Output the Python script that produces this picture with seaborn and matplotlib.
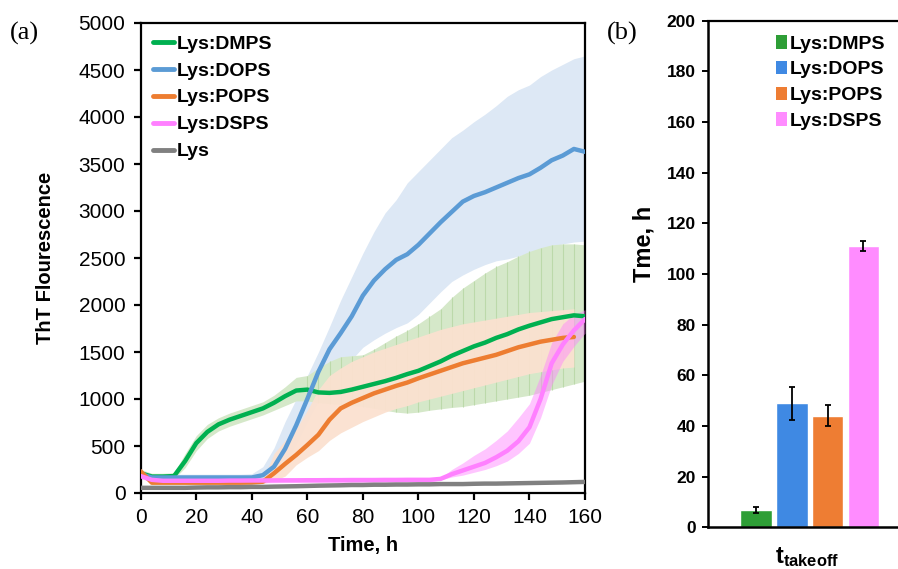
import numpy as np
import pandas as pd
import matplotlib
matplotlib.use("Agg")
import matplotlib.pyplot as plt
from matplotlib.patches import Patch
import seaborn as sns

# ---------------- data: ThT kinetics (panel a) ----------------
time_h = [0, 4, 8, 12, 16, 20, 24, 28, 32, 36, 40, 44, 48, 52, 56, 60, 64, 68, 72, 76,
          80, 84, 88, 92, 96, 100, 104, 108, 112, 116, 120, 124, 128, 132, 136, 140,
          144, 148, 152, 156, 160]

dmps_mean = [210, 175, 175, 180, 340, 530, 650, 730, 780, 820, 860, 900, 960, 1030, 1090,
             1100, 1070, 1065, 1075, 1100, 1130, 1160, 1190, 1225, 1265, 1300, 1350, 1400,
             1460, 1510, 1560, 1600, 1650, 1690, 1740, 1780, 1815, 1850, 1870, 1890, 1880]
dmps_hi = [250, 210, 210, 215, 420, 610, 730, 800, 850, 890, 930, 970, 1040, 1130, 1230,
           1250, 1330, 1400, 1450, 1460, 1470, 1530, 1600, 1670, 1730, 1800, 1880, 1960,
           2080, 2180, 2260, 2340, 2410, 2460, 2520, 2570, 2610, 2640, 2650, 2650, 2640]
dmps_lo = [170, 145, 145, 150, 270, 450, 580, 660, 710, 750, 790, 830, 880, 930, 980,
           980, 960, 950, 940, 930, 920, 900, 880, 860, 850, 860, 880, 895, 910, 920, 940,
           960, 980, 1000, 1020, 1040, 1070, 1100, 1130, 1160, 1190]

dops_mean = [200, 165, 165, 165, 165, 165, 165, 165, 165, 165, 165, 190, 280, 470, 720,
             1000, 1290, 1530, 1700, 1880, 2100, 2260, 2380, 2480, 2540, 2640, 2760, 2880,
             2990, 3100, 3160, 3200, 3250, 3300, 3350, 3390, 3460, 3540, 3590, 3660, 3630]
dops_hi = [240, 200, 200, 200, 200, 200, 200, 200, 200, 200, 205, 280, 480, 760, 1000,
           1250, 1500, 1770, 2050, 2300, 2550, 2780, 2980, 3120, 3300, 3420, 3540, 3660,
           3780, 3860, 3950, 4030, 4120, 4220, 4290, 4340, 4430, 4500, 4560, 4620, 4650]
dops_lo = [160, 135, 135, 135, 135, 135, 135, 135, 135, 135, 135, 150, 200, 330, 520,
           760, 980, 1150, 1300, 1420, 1550, 1630, 1700, 1760, 1810, 1900, 2020, 2140,
           2250, 2320, 2380, 2430, 2470, 2490, 2520, 2560, 2590, 2620, 2650, 2670, 2680]

pops_mean = [230, 110, 110, 110, 110, 110, 110, 110, 110, 110, 112, 120, 210, 310, 405,
             510, 620, 780, 900, 960, 1010, 1060, 1100, 1140, 1175, 1220, 1260, 1300, 1340,
             1380, 1410, 1440, 1470, 1510, 1550, 1580, 1610, 1630, 1650, 1660, np.nan]
pops_hi = [260, 135, 135, 135, 135, 135, 135, 135, 135, 135, 137, 140, 420, 560, 680,
           880, 1100, 1250, 1330, 1400, 1450, 1500, 1540, 1580, 1620, 1660, 1700, 1740,
           1770, 1800, 1820, 1840, 1860, 1880, 1900, 1920, 1930, 1940, 1950, 1960, np.nan]
pops_lo = [200, 90, 90, 90, 90, 90, 90, 90, 90, 90, 92, 100, 130, 180, 300, 380, 450, 560,
           640, 700, 760, 810, 860, 900, 930, 970, 1000, 1030, 1060, 1090, 1120, 1150, 1180,
           1210, 1240, 1270, 1290, 1310, 1330, 1340, np.nan]

dsps_mean = [180, 140, 130, 130, 130, 130, 130, 130, 132, 132, 133, 133, 134, 135, 135,
             136, 136, 137, 137, 138, 138, 138, 139, 139, 140, 140, 140, 150, 200, 240, 280,
             320, 380, 450, 550, 700, 1000, 1380, 1580, 1730, 1850]
dsps_hi = [205, 165, 155, 155, 155, 155, 155, 155, 157, 157, 158, 158, 159, 160, 160, 161,
           161, 162, 162, 163, 163, 163, 164, 164, 165, 165, 165, 160, 250, 320, 400, 470,
           560, 660, 800, 950, 1250, 1600, 1800, 1900, 1950]
dsps_lo = [155, 115, 105, 105, 105, 105, 105, 105, 107, 107, 108, 108, 109, 110, 110, 111,
           111, 112, 112, 113, 113, 113, 114, 114, 115, 115, 115, 140, 170, 190, 220, 250,
           290, 340, 420, 530, 800, 1150, 1400, 1560, 1700]

lys_mean = [55, 55, 55, 55, 55, 58, 60, 60, 62, 62, 65, 65, 68, 70, 72, 75, 78, 80, 82, 85,
            85, 88, 88, 90, 90, 92, 92, 95, 95, 95, 98, 100, 100, 102, 104, 106, 108, 110,
            112, 115, 118]

series_names = ["Lys:DMPS", "Lys:DOPS", "Lys:POPS", "Lys:DSPS", "Lys"]

# ---------------- data: takeoff times (panel b) ----------------
lipids = ["Lys:DMPS", "Lys:DOPS", "Lys:POPS", "Lys:DSPS"]
t_takeoff = [7.0, 49.0, 44.0, 111.0]
t_takeoff_err = [1.2, 6.5, 4.2, 2.0]

# ---------------- styling ----------------
line_colors = {"Lys:DMPS": "#00b050", "Lys:DOPS": "#5b9bd5", "Lys:POPS": "#ed7d31",
               "Lys:DSPS": "#ff80ff", "Lys": "#808080"}
bar_colors = {"Lys:DMPS": "#2e9e36", "Lys:DOPS": "#3f89e3", "Lys:POPS": "#ee7d33",
              "Lys:DSPS": "#ff8cff"}

sns.set_theme(style="ticks")
plt.rcParams["font.family"] = ["Liberation Sans", "DejaVu Sans"]
plt.rcParams["axes.linewidth"] = 1.6
plt.rcParams["text.color"] = "black"
plt.rcParams["axes.labelcolor"] = "black"
plt.rcParams["xtick.color"] = "black"
plt.rcParams["ytick.color"] = "black"
plt.rcParams["axes.edgecolor"] = "black"
plt.rcParams["mathtext.fontset"] = "custom"
plt.rcParams["mathtext.bf"] = "Liberation Sans:bold"
plt.rcParams["mathtext.rm"] = "Liberation Sans"

W, H = 898, 569
fig = plt.figure(figsize=(W / 100, H / 100), dpi=100)

ax = fig.add_axes([140.7 / W, 1 - 493 / H, (585 - 140.7) / W, (493 - 23) / H])

t = np.array(time_h, dtype=float)

# uncertainty bands
ax.fill_between(t, dops_lo, dops_hi, color="#dde8f5", lw=0, zorder=1)
ax.fill_between(t, dmps_lo, dmps_hi, color="#d5e8c9", lw=0, zorder=2)
ax.vlines(t[15:], np.array(dmps_lo)[15:], np.array(dmps_hi)[15:], color="#bcd9aa",
          lw=0.8, zorder=2.1)
ax.fill_between(t, pops_lo, pops_hi, color="#fbe1d0", lw=0, alpha=0.95, zorder=3)
ax.fill_between(t, dsps_lo, dsps_hi, color="#ff80ff", lw=0, alpha=0.45, zorder=4)

# mean traces
frames = []
for name, vals in zip(series_names,
                      [dmps_mean, dops_mean, pops_mean, dsps_mean, lys_mean]):
    frames.append(pd.DataFrame({"Time": time_h, "ThT": vals, "Sample": name}))
kin = pd.concat(frames, ignore_index=True).dropna()

sns.lineplot(data=kin, x="Time", y="ThT", hue="Sample", hue_order=series_names,
             palette=line_colors, linewidth=3.2, estimator=None, errorbar=None,
             ax=ax, zorder=6)

ax.set_xlim(0, 160)
ax.set_ylim(0, 5000)
ax.set_xticks(np.arange(0, 161, 20))
ax.set_yticks(np.arange(0, 5001, 500))
ax.tick_params(axis="both", direction="out", length=5, width=1.6, labelsize=15, pad=6)
ax.set_xlabel("Time, h", fontsize=14.5, fontweight="bold", labelpad=6)
ax.set_ylabel("ThT Flourescence", fontsize=14.5, fontweight="bold")
ax.yaxis.set_label_coords((55 - 140.7) / (585 - 140.7), 0.5)
for sp in ax.spines.values():
    sp.set_visible(True)
    sp.set_color("black")

handles, labels = ax.get_legend_handles_labels()
for h in handles:
    h.set_linewidth(3.5)
leg = ax.legend(handles, labels, loc="upper left", frameon=False,
                bbox_to_anchor=(153 / W, 1 - 35 / H), bbox_transform=fig.transFigure,
                prop={"weight": "bold", "size": 14}, handlelength=1.1,
                handletextpad=0.1, labelspacing=0.48, borderpad=0, borderaxespad=0)

# ---------------- panel b ----------------
bx_left = 708.3
bx_right = 943.0
bx = fig.add_axes([bx_left / W, 1 - 527.3 / H, (bx_right - bx_left) / W,
                   (527.3 - 20.7) / H])
bars = pd.DataFrame({"Lipid": lipids, "t": t_takeoff})
sns.barplot(data=bars, x="Lipid", y="t", hue="Lipid", hue_order=lipids, order=lipids,
            palette=bar_colors, dodge=False, width=0.88, errorbar=None, legend=False,
            saturation=1, ax=bx, zorder=2)
bx.errorbar(np.arange(len(lipids)), t_takeoff, yerr=t_takeoff_err, fmt="none",
            ecolor="black", elinewidth=1.3, capsize=2.2, capthick=1.3, zorder=3)

px_per_unit = 35.8
x_first = 756.0
lo = -(x_first - bx_left) / px_per_unit
bx.set_xlim(lo, lo + (bx_right - bx_left) / px_per_unit)
bx.set_ylim(0, 200)
bx.set_yticks(np.arange(0, 201, 20))
bx.set_xticks([])
bx.tick_params(axis="y", direction="out", length=4, width=1.4, labelsize=12.5, pad=5)
for lab in bx.get_yticklabels():
    lab.set_fontweight("bold")
for sp in bx.spines.values():
    sp.set_visible(True)
    sp.set_color("black")
bx.spines["left"].set_linewidth(1.8)
bx.spines["bottom"].set_linewidth(1.8)

bx.set_ylabel("Tme, h", fontsize=17, fontweight="bold")
bx.yaxis.set_label_coords((655 - bx_left) / (bx_right - bx_left), 0.56)
bx.set_xlabel(r"$\mathbf{t_{takeoff}}$", fontsize=17)
bx.xaxis.set_label_coords((807 - bx_left) / (bx_right - bx_left), -0.035)

patches = [Patch(facecolor=bar_colors[n], edgecolor="none", label=n) for n in lipids]
bx.legend(handles=patches, loc="upper left", frameon=False,
          bbox_to_anchor=(776 / W, 1 - 35 / H), bbox_transform=fig.transFigure,
          prop={"weight": "bold", "size": 14}, handlelength=0.55, handleheight=0.7,
          handletextpad=0.15, labelspacing=0.42, borderpad=0, borderaxespad=0)

# panel tags
fig.text(10 / W, 1 - 33 / H, "(a)", fontsize=19, family="Liberation Serif", va="center")
fig.text(607 / W, 1 - 33 / H, "(b)", fontsize=19, family="Liberation Serif", va="center")

fig.savefig("out.png", dpi=100)
